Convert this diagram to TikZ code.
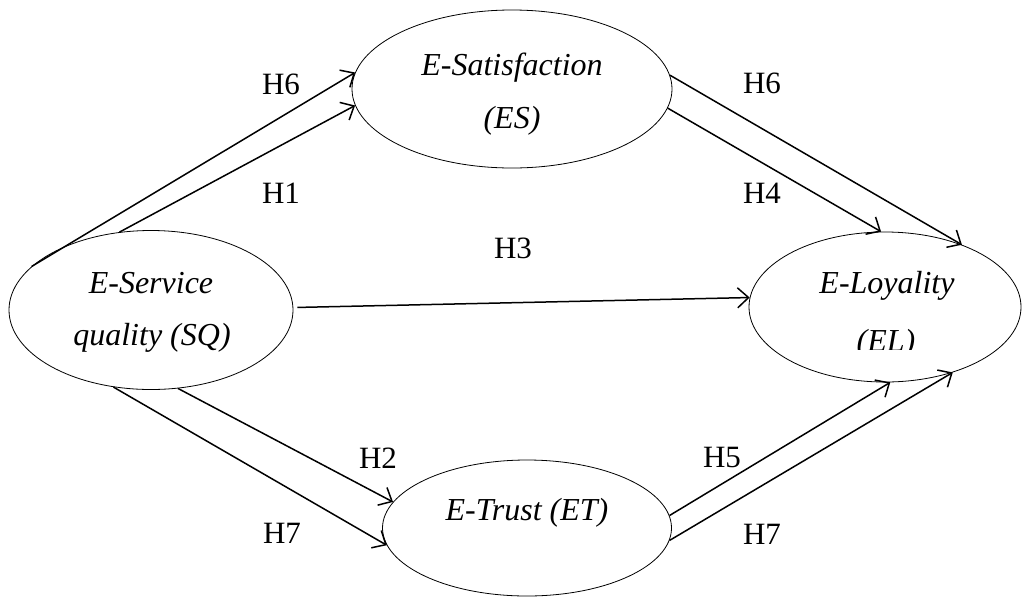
\documentclass[tikz,border=0pt]{standalone}
\usepackage{fontspec}
\setmainfont{Liberation Serif}
\usetikzlibrary{shapes.geometric,arrows.meta}
\begin{document}
\begin{tikzpicture}[x=1pt,y=-1pt,
  construct/.style={draw=black,line width=0.8pt,ellipse,inner sep=0pt},
  ctext/.style={font=\fontsize{32}{38}\selectfont\itshape,anchor=base,inner sep=0pt},
  hyp/.style={font=\fontsize{31}{36}\selectfont,inner sep=0pt},
  path/.style={draw=black,line width=1.5pt,-{Straight Barb[length=11pt,width=20pt,line width=1.5pt]}}
]
\useasboundingbox (0,0) rectangle (1025,598);
% constructs
\node[construct,minimum width=284pt,minimum height=159pt] (SQ) at (151,310) {};
\node[construct,minimum width=320pt,minimum height=158pt] (ES) at (512,89) {};
\node[construct,minimum width=272pt,minimum height=150pt] (EL) at (885,307) {};
\node[construct,minimum width=289pt,minimum height=136pt] (ET) at (527,528) {};
% construct texts
\node[ctext] (SQa) at (151,293) {E-Service};
\node[ctext] (SQb) at (152,345) {quality (SQ)};
\node[ctext] (ESa) at (512,75) {E-Satisfaction};
\node[ctext] (ESb) at (512,128) {(ES)};
\node[ctext] (ELa) at (887,293) {E-Loyality};
\begin{scope}
\clip (740,300) rectangle (1025,349.5);
\node[ctext] (ELb) at (886,351) {(EL)};
\end{scope}
\node[ctext] (ETa) at (527,520) {E-Trust (ET)};
% paths
\draw[path] (SQ.160) -- (ES.174.8);
\draw[path] (SQ.112.9) -- (ES.186.4);
\draw[path] (ES.5.1) -- (EL.39.7);
\draw[path] (ES.353.1) -- (EL.93.6);
\draw[path,shorten <=4pt] (SQ.1.6) -- (EL.176.2);
\draw[path] (SQ.289.8) -- (ET.169.7);
\draw[path] (SQ.244.9) -- (ET.187.7);
\draw[path] (ET.5.3) -- (EL.274.9);
\draw[path] (ET.355.4) -- (EL.316.2);
% hypothesis labels
\node[hyp] (h6a) at (281,84) {H6};
\node[hyp] (h1) at (281,193) {H1};
\node[hyp] (h6b) at (762,83) {H6};
\node[hyp] (h4) at (762,193) {H4};
\node[hyp] (h3) at (513,248) {H3};
\node[hyp] (h2) at (378,458) {H2};
\node[hyp] (h7a) at (282,533) {H7};
\node[hyp] (h5) at (722,457) {H5};
\node[hyp] (h7b) at (762,534) {H7};
\end{tikzpicture}
\end{document}
